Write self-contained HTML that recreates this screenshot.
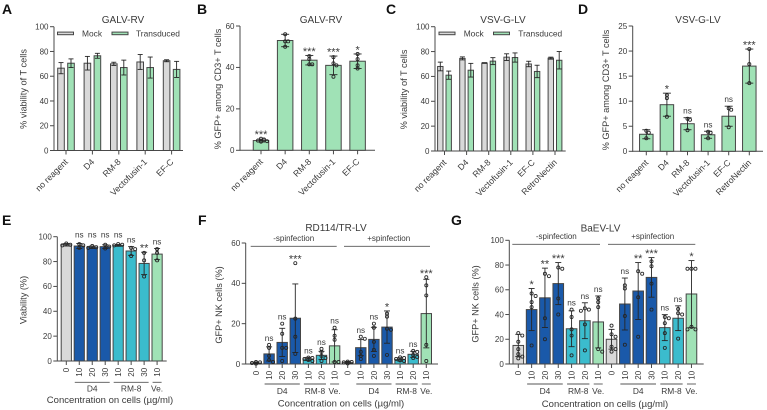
<!DOCTYPE html>
<html>
<head>
<meta charset="utf-8">
<title>Viability and transduction panels</title>
<style>
html,body{margin:0;padding:0;background:#fff;}
svg{display:block;filter:blur(0.3px);}
text{font-family:"Liberation Sans",sans-serif;fill:#3a3a3a;}
</style>
</head>
<body>
<svg id="figure" width="767" height="410" viewBox="0 0 767 410" xmlns="http://www.w3.org/2000/svg"></svg>
<script>
// Panel A
const aCategories = ['no reagent','D4','RM-8','Vectofusin-1','EF-C'];
const aMockMeans = [66.5,70.5,70,71.5,72.5];
const aMockErr = [4.5,5.5,1.3,6,0.8];
const aTransMeans = [70.5,76.5,67,67,65.5];
const aTransErr = [3.5,2,6,8.5,6.5];
const aTicks = [0,20,40,60,80,100];
// Panel B
const bCategories = ['no reagent','D4','RM-8','Vectofusin-1','EF-C'];
const bMeans = [4.7,53,43.5,41,43];
const bErr = [0.7,3,2.3,4.5,3.5];
const bPoints = [[5.6,5.2,4.7,4.4,4.2],[56,52.6,52.6,50],[45.5,44,41.5,41.5],[45,42,41,35.5],[46.5,44,41,39.5]];
const bSig = ['***','','***','***','*'];
const bTicks = [0,20,40,60];
// Panel C
const cCategories = ['no reagent','D4','RM-8','Vectofusin-1','EF-C','RetroNectin'];
const cMockMeans = [68,74.5,70.8,75.5,70,74.7];
const cMockErr = [3.5,1.2,0.3,2.7,2.2,0.8];
const cTransMeans = [61,65,72.3,75.2,64,73];
const cTransErr = [3.3,5.5,2.8,3.7,5,7];
const cTicks = [0,20,40,60,80,100];
// Panel D
const dCategories = ['no reagent','D4','RM-8','Vectofusin-1','EF-C','RetroNectin'];
const dMeans = [3.4,9.3,5.5,3.3,7,17];
const dErr = [0.9,2.3,1.2,0.7,2,3.4];
const dPoints = [[4.1,3.7,2.6],[11.2,10.6,6.9],[6.5,6.3,4.2],[3.9,3.7,2.6],[8.6,8.3,4.8],[20.4,17.4,13.6]];
const dSig = ['','*','ns','ns','ns','***'];
const dTicks = [0,5,10,15,20,25];
// Panel E
const eCategories = ['0','10','20','30','10','20','30','10'];
const eMeans = [93.5,92.5,91.5,92,93,88.5,78.5,86];
const eErr = [1,2,1,1.5,0.7,3.5,9,4.5];
const ePoints = [[94.5,93.5,93],[94,93,91],[92.5,91.5,91],[93.5,92,90.5],[94,93.5,93],[91,90,84.5],[87,81,68],[90,87,81]];
const eSig = ['','ns','ns','ns','ns','ns','**','ns'];
const eSigHeights = [null,96,96,96,96,null,null,null];
const eTicks = [0,20,40,60,80,100];
// Panel F
const fCategories = ['0','10','20','30','10','20','10','0','10','20','30','10','20','10'];
const fMeans = [0.5,5,10.7,22.7,2.5,4.3,9,0.8,8.1,12.2,18.3,2.3,4.8,25];
const fErr = [0.4,3.5,7,17,0.8,2,8,0.5,4,6,8,0.8,1.5,17];
const fPoints = [[1,0.8,0.5,0.3,0.2],[9.5,8,4,2,1],[20,15,8,8,1.5],[50,22.5,13.5,5],[3.2,3,2.5,2,1.5],[7.5,6,4,3,1.5],[18,14,12,1,1],[1.2,1,0.8,0.5,0.3],[13.5,12.5,6,4,2.5],[20,18,11,7,4],[25,23.5,17.5,17,4.5],[3.3,3,2.5,1.8,1.5],[6.5,6,4.5,3.5,3],[43,39,34,9.5,1.5]];
const fSig = ['','ns','ns','***','ns','ns','ns','','ns','ns','*','ns','ns','***'];
const fTicks = [0,20,40,60];
// Panel G
const gCategories = ['0','10','20','30','10','20','10','0','10','20','30','10','20','10'];
const gMeans = [15,44,53.5,65,28.5,35,34,20,48.5,59,70,29.4,37,56.6];
const gErr = [9,17,24,17,14.5,14.5,21,8,21,23,16,10.5,10,27];
const gPoints = [[25,23,18,12,8,6,4.5],[57,55,50,46,15],[73,71,37,20],[78,77,53,40],[44,38,28,23,7],[45,44,43,32,11],[53,50,46,12,10],[31,24,22,14,12,10],[63.6,61,38.8,15.6],[75,73,54,22],[83,79,65,44],[38,37,33,25,13],[44.5,41,40,20.5],[77,77,77,30,28,28]];
const gSig = ['','*','**','***','ns','ns','ns','','ns','**','***','ns','ns','*'];
const gTicks = [0,20,40,60,80,100];

const svg = document.getElementById('figure');
const NS = 'http://www.w3.org/2000/svg';
const GRAY = '#d9d9d9', GREEN = '#a0e2b6', BLUE = '#1a59a9', TEAL = '#3bbccd';
const LINE = '#4a4a4a', MARK = '#262626';

function mk(tag, attrs, name, parent) {
  const el = document.createElementNS(NS, tag);
  for (const k in attrs) el.setAttribute(k, attrs[k]);
  
  
  (parent || svg).appendChild(el);
  return el;
}
function txt(s, x, y, size, anchor, name, extra) {
  const el = mk('text', Object.assign({x: x, y: y, 'font-size': size, 'text-anchor': anchor}, extra || {}), name);
  el.textContent = s;
  return el;
}
function line(x1, y1, x2, y2, color, w, name) {
  return mk('line', {x1: x1, y1: y1, x2: x2, y2: y2, stroke: color, 'stroke-width': w}, name);
}
function makeAxes(p) {
  const yScale = v => p.y0 - (v / p.yMax) * (p.y0 - p.yTop);
  line(p.xAxis, p.yTop, p.xAxis, p.y0 + 0.5, LINE, 1, p.id + '-y-axis');
  line(p.xAxis, p.y0, p.xEnd, p.y0, LINE, 1, p.id + '-x-axis');
  p.ticks.forEach(t => {
    line(p.xAxis - 4, yScale(t), p.xAxis, yScale(t), LINE, 1, p.id + '-y-tick');
    txt(String(t), p.xAxis - 5.5, yScale(t) + 2.8, 8, 'end', p.id + '-y-tick-label');
  });
  txt(p.yTitle, 0, 0, 9.2, 'middle', p.id + '-y-axis-title', {transform: 'translate(' + p.yTitleX + ',' + p.yTitleY + ') rotate(-90)'});
  return yScale;
}
function xLabels(p, cats, xOf) {
  cats.forEach((c, i) => {
    const x = xOf(i);
    line(x, p.y0, x, p.y0 + 4, LINE, 1, p.id + '-x-tick');
    if (p.vertical) {
      txt(c, 0, 0, 8, 'end', p.id + '-x-tick-label', {transform: 'translate(' + (x + 2.9) + ',' + (p.y0 + 6.8) + ') rotate(-90)'});
    } else {
      txt(c, 0, 0, 8.7, 'end', p.id + '-x-tick-label', {transform: 'translate(' + (x + 2.5) + ',' + (p.y0 + 12) + ') rotate(-45)'});
    }
  });
}
function bar(x, w, mean, err, fill, yScale, p, capW, name) {
  mk('rect', {x: x - w / 2, y: yScale(mean), width: w, height: p.y0 - yScale(mean), fill: fill, stroke: '#454545', 'stroke-width': 1}, name);
  line(x, yScale(mean + err), x, yScale(Math.max(mean - err, 0)), MARK, 0.9, name + '-error-bar');
  line(x - capW / 2, yScale(mean + err), x + capW / 2, yScale(mean + err), MARK, 0.9, name + '-error-cap');
  line(x - capW / 2, yScale(Math.max(mean - err, 0)), x + capW / 2, yScale(Math.max(mean - err, 0)), MARK, 0.9, name + '-error-cap');
}
function swarm(x, pts, yScale, spread, name) {
  const placed = [];
  pts.forEach(v => {
    const y = yScale(v);
    const order = [0, spread, -spread, spread * 2, -spread * 2];
    let off = 0;
    for (const o of order) {
      if (!placed.some(q => Math.abs(q[0] - o) < 2.5 && Math.abs(q[1] - y) < 2.5)) { off = o; break; }
    }
    placed.push([off, y]);
    mk('circle', {cx: x + off, cy: y, r: 1.55, fill: 'none', stroke: MARK, 'stroke-width': 0.85}, name);
  });
}
function sig(s, x, top) {
  if (!s) return;
  if (s === 'ns') txt(s, x, top - 4, 8.2, 'middle', 'significance-label');
  else txt(s, x, top - 0.5, 11, 'middle', 'significance-label');
}
function grouped(p, cats, m1, e1, m2, e2) {
  const yScale = makeAxes(p);
  const xOf = i => p.first + p.step * i;
  cats.forEach((c, i) => {
    bar(xOf(i) - p.off, p.w, m1[i], e1[i], GRAY, yScale, p, 5, p.id + '-bar-mock');
    bar(xOf(i) + p.off, p.w, m2[i], e2[i], GREEN, yScale, p, 5, p.id + '-bar-transduced');
  });
  xLabels(p, cats, xOf);
  p.legend.forEach(l => {
    mk('rect', {x: l.x, y: p.legendY - 1.2, width: 16, height: 2.6, fill: l.fill, stroke: '#454545', 'stroke-width': 1}, p.id + '-legend-swatch');
    txt(l.label, l.tx, p.legendY + 3, 8.4, 'start', p.id + '-legend-label');
  });
}
function single(p, cats, means, errs, points, sigs, fills, sigHeights) {
  const yScale = makeAxes(p);
  const xOf = i => p.first + p.step * i;
  cats.forEach((c, i) => {
    bar(xOf(i), p.w, means[i], errs[i], fills[i], yScale, p, p.cap, p.id + '-bar');
    swarm(xOf(i), points[i], yScale, p.spread, p.id + '-data-point');
    let top = Math.min(yScale(means[i] + errs[i]), yScale(Math.max.apply(null, points[i])));
    if (sigHeights && sigHeights[i] !== null) top = yScale(sigHeights[i]);
    sig(sigs[i], xOf(i), top);
  });
  xLabels(p, cats, xOf);
  (p.groups || []).forEach(g => {
    const a = xOf(g[0]) - 4.5, b = xOf(g[1]) + 4.5;
    line(a, p.groupY, b, p.groupY, '#555', 0.9, p.id + '-group-line');
    txt(g[2], (a + b) / 2, p.groupY + (p.groupGap || 10), 8.4, 'middle', p.id + '-group-label');
  });
  (p.spin || []).forEach(s => {
    line(s.a, p.spinY, s.b, p.spinY, '#555', 0.9, p.id + '-spinfection-line');
    txt(s.t, s.c, p.spinText, 8, 'middle', p.id + '-spinfection-label');
  });
  if (p.xTitle) txt(p.xTitle, p.xTitleX, p.xTitleY, 9.5, 'middle', p.id + '-x-axis-title');
}
function title(s, x, y, id) { txt(s, x, y, 10, 'middle', id + '-title'); }
function letter(s, x, y) { txt(s, x, y, 14, 'start', 'panel-label-' + s.toLowerCase(), {'font-weight': 'bold', style: 'fill:#111'}); }

const XT = 'Concentration on cells (\u00b5g/ml)';

letter('A', 2, 14); letter('B', 197, 14); letter('C', 386, 14); letter('D', 578, 14);
letter('E', 2, 225); letter('F', 198, 225); letter('G', 451, 225);

title('GALV-RV', 123, 23, 'panel-a');
grouped({id:'panel-a', xAxis:54, xEnd:183, y0:150.5, yTop:26.7, yMax:100, ticks:aTicks, yTitle:'% viability of T cells', yTitleX:26.5, yTitleY:89,
  first:66, step:26.4, off:5, w:6.6, legendY:33.3,
  legend:[{x:57.5,tx:82,fill:GRAY,label:'Mock'},{x:112,tx:136,fill:GREEN,label:'Transduced'}]},
  aCategories, aMockMeans, aMockErr, aTransMeans, aTransErr);

title('GALV-RV', 321, 23, 'panel-b');
single({id:'panel-b', xAxis:240, xEnd:375, y0:150.3, yTop:26, yMax:60, ticks:bTicks, yTitle:'% GFP+ among CD3+ T cells', yTitleX:221, yTitleY:89,
  first:261, step:24.15, w:15.5, cap:8, spread:3},
  bCategories, bMeans, bErr, bPoints, bSig, [GREEN,GREEN,GREEN,GREEN,GREEN]);

title('VSV-G-LV', 503, 23, 'panel-c');
grouped({id:'panel-c', xAxis:435, xEnd:565.7, y0:151, yTop:26.7, yMax:100, ticks:cTicks, yTitle:'% viability of T cells', yTitleX:407, yTitleY:89.5,
  first:444.5, step:22.1, off:4.2, w:5.4, legendY:33.3,
  legend:[{x:439,tx:463.7,fill:GRAY,label:'Mock'},{x:493.5,tx:518.3,fill:GREEN,label:'Transduced'}]},
  cCategories, cMockMeans, cMockErr, cTransMeans, cTransErr);

title('VSV-G-LV', 698, 23, 'panel-d');
single({id:'panel-d', xAxis:632.7, xEnd:763, y0:151.3, yTop:26, yMax:25, ticks:dTicks, yTitle:'% GFP+ among CD3+ T cells', yTitleX:609, yTitleY:90,
  first:646.3, step:20.6, w:13.5, cap:8, spread:2.5},
  dCategories, dMeans, dErr, dPoints, dSig, [GREEN,GREEN,GREEN,GREEN,GREEN,GREEN]);

single({id:'panel-e', xAxis:57.3, xEnd:166.7, y0:361, yTop:236.7, yMax:100, ticks:eTicks, yTitle:'Viability (%)', yTitleX:26.5, yTitleY:300,
  first:66.3, step:12.97, w:10.2, cap:6, spread:2, vertical:true, groupY:382.3, groupGap:9.2,
  groups:[[1,3,'D4'],[4,6,'RM-8'],[7,7,'Ve.']], xTitle:XT, xTitleX:110, xTitleY:403},
  eCategories, eMeans, eErr, ePoints, eSig, [GRAY,BLUE,BLUE,BLUE,TEAL,TEAL,TEAL,GREEN], eSigHeights);

title('RD114/TR-LV', 336, 231, 'panel-f');
single({id:'panel-f', xAxis:245.7, xEnd:438, y0:364, yTop:243, yMax:60, ticks:fTicks, yTitle:'GFP+ NK cells (%)', yTitleX:222, yTitleY:305,
  first:256, step:13.1, w:10.4, cap:6, spread:2, vertical:true, groupY:384,
  groups:[[1,3,'D4'],[4,5,'RM-8'],[6,6,'Ve.'],[8,10,'D4'],[11,12,'RM-8'],[13,13,'Ve.']],
  spinY:246.3, spinText:241,
  spin:[{a:250.7,b:336.7,c:293.7,t:'-spinfection'},{a:344,b:430,c:388.7,t:'+spinfection'}],
  xTitle:XT, xTitleX:341, xTitleY:406.5},
  fCategories, fMeans, fErr, fPoints, fSig, [GRAY,BLUE,BLUE,BLUE,TEAL,TEAL,GREEN,GRAY,BLUE,BLUE,BLUE,TEAL,TEAL,GREEN]);

title('BaEV-LV', 600.5, 231.5, 'panel-g');
single({id:'panel-g', xAxis:509.3, xEnd:703.7, y0:364, yTop:240.3, yMax:100, ticks:gTicks, yTitle:'GFP+ NK cells (%)', yTitleX:478.5, yTitleY:304,
  first:518.3, step:13.32, w:10.6, cap:6, spread:2, vertical:true, groupY:384,
  groups:[[1,3,'D4'],[4,5,'RM-8'],[6,6,'Ve.'],[8,10,'D4'],[11,12,'RM-8'],[13,13,'Ve.']],
  spinY:244.3, spinText:239,
  spin:[{a:512.3,b:600,c:556.3,t:'-spinfection'},{a:608,b:695.3,c:652.7,t:'+spinfection'}],
  xTitle:XT, xTitleX:605, xTitleY:407},
  gCategories, gMeans, gErr, gPoints, gSig, [GRAY,BLUE,BLUE,BLUE,TEAL,TEAL,GREEN,GRAY,BLUE,BLUE,BLUE,TEAL,TEAL,GREEN]);
</script>
</body>
</html>
